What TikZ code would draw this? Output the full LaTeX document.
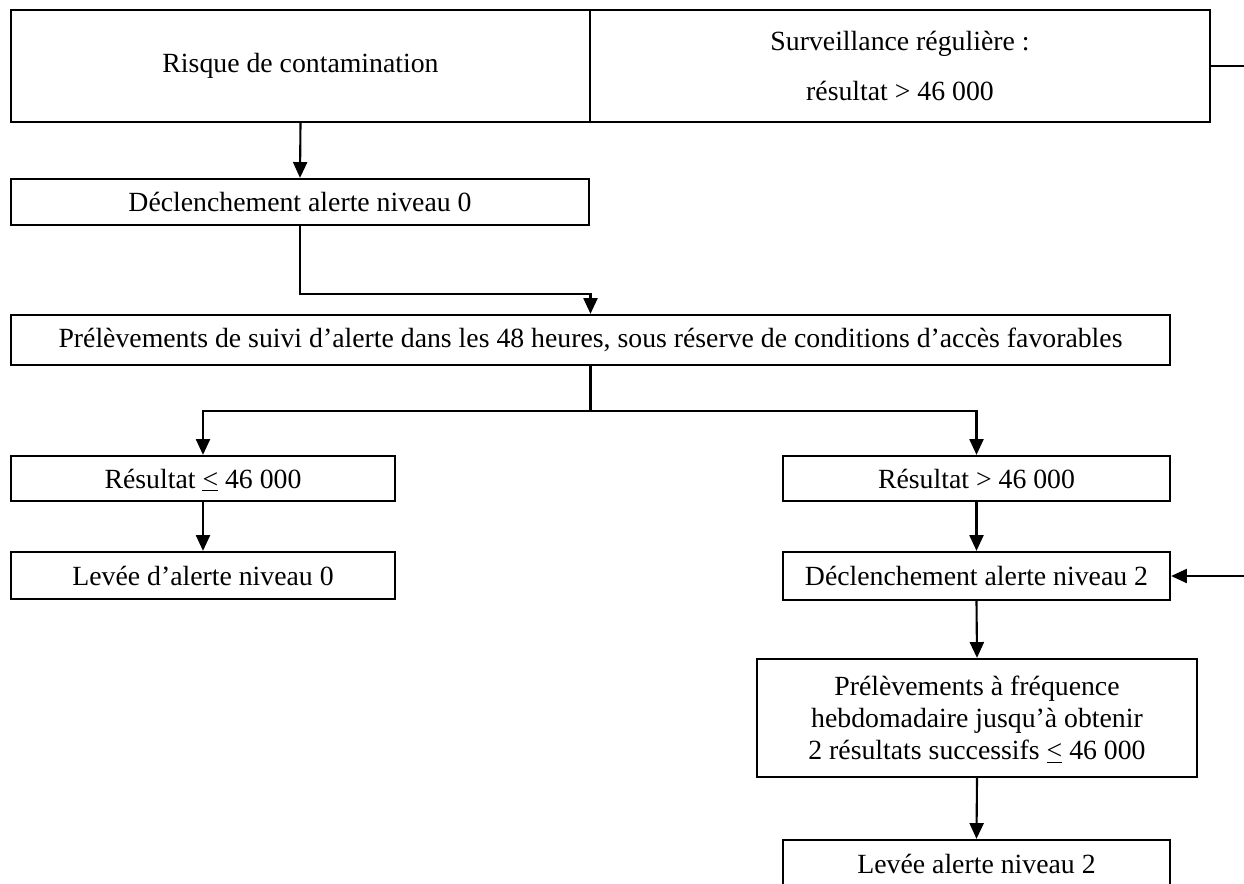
\documentclass[tikz,border=0pt]{standalone}
\usepackage{fontspec}
\setmainfont{Liberation Serif}
\usepackage{tikz}
\usetikzlibrary{arrows.meta,positioning,calc}
\tikzset{
  chart/.style={
    font=\fontsize{15.8}{18.4}\selectfont,
    >={Triangle[length=9pt, width=8pt]},
    line width=1.2pt,
  },
  block/.style={
    draw=black, line width=1.3pt, fill=white,
    align=center, inner sep=2pt, anchor=center,
  },
  flow/.style={->, black, line width=1.2pt},
  feed/.style={black, line width=0.8pt},
}
\newcommand{\ulless}{\smash{\underline{<}}}

\begin{document}
\begin{tikzpicture}[chart, x=1cm, y=1cm]

\useasboundingbox (0,0) rectangle (24.88,-17.66);

% ============================================================
% TOP ROW
% ============================================================
\node[block, minimum width=11.58cm, minimum height=2.24cm]
  (riskBox) at (6.01,-1.32) {\raisebox{-4pt}{Risque de contamination}};
\node[block, minimum width=12.40cm, minimum height=2.24cm]
  (survBox) at (18.00,-1.32)
  {Surveillance régulière :\\[10pt] résultat > 46 000};
\coordinate (survOut) at (24.88,-1.32);
\draw[feed] (survBox.east) -- (survOut);

% Alert level 0
\node[block, minimum width=11.56cm, minimum height=0.92cm]
  (alertZero) at (6.00,-4.04) {Déclenchement alerte niveau 0};
\draw[flow] (riskBox.south) -- (alertZero.north);

% Follow-up sampling
\node[block, minimum width=23.18cm, minimum height=1.00cm]
  (followBox) at (11.81,-6.80)
  {Prélèvements de suivi d’alerte dans les 48 heures, sous réserve de conditions d’accès favorables};
\draw[flow] (alertZero.south) |- ++(0,-1.36) -| (followBox.north);

% ============================================================
% BRANCHES
% ============================================================
\node[block, minimum width=7.68cm, minimum height=0.90cm]
  (lowRes) at (4.06,-9.57) {Résultat \ulless{} 46 000};
\node[block, minimum width=7.74cm, minimum height=0.90cm]
  (highRes) at (19.53,-9.57) {Résultat > 46 000};
\coordinate (split) at ($(followBox.south)+(0,-0.90)$);
\draw[flow] (followBox.south) -- (split) -| (lowRes.north);
\draw[flow] (split) -| (highRes.north);

% left column
\node[block, minimum width=7.68cm, minimum height=0.94cm]
  (liftZero) at (4.06,-11.51) {Levée d’alerte niveau 0};
\draw[flow] (lowRes.south) -- (liftZero.north);

% right column
\node[block, minimum width=7.74cm, minimum height=0.96cm]
  (alertTwo) at (19.53,-11.52) {Déclenchement alerte niveau 2};
\draw[flow] (highRes.south) -- (alertTwo.north);
\coordinate (loopIn) at (24.88,-11.52);
\draw[flow] (loopIn) -- (alertTwo.east);

\node[block, minimum width=8.80cm, minimum height=2.36cm]
  (weeklyBox) at (19.54,-14.36)
  {Prélèvements à fréquence\\ hebdomadaire jusqu’à obtenir\\
   2 résultats successifs \ulless{} 46 000};
\draw[flow] (alertTwo.south) -- (weeklyBox.north);

\node[block, minimum width=7.74cm, minimum height=0.96cm]
  (liftTwo) at (19.53,-17.28) {Levée alerte niveau 2};
\draw[flow] (weeklyBox.south) -- (liftTwo.north);

\end{tikzpicture}
\end{document}
